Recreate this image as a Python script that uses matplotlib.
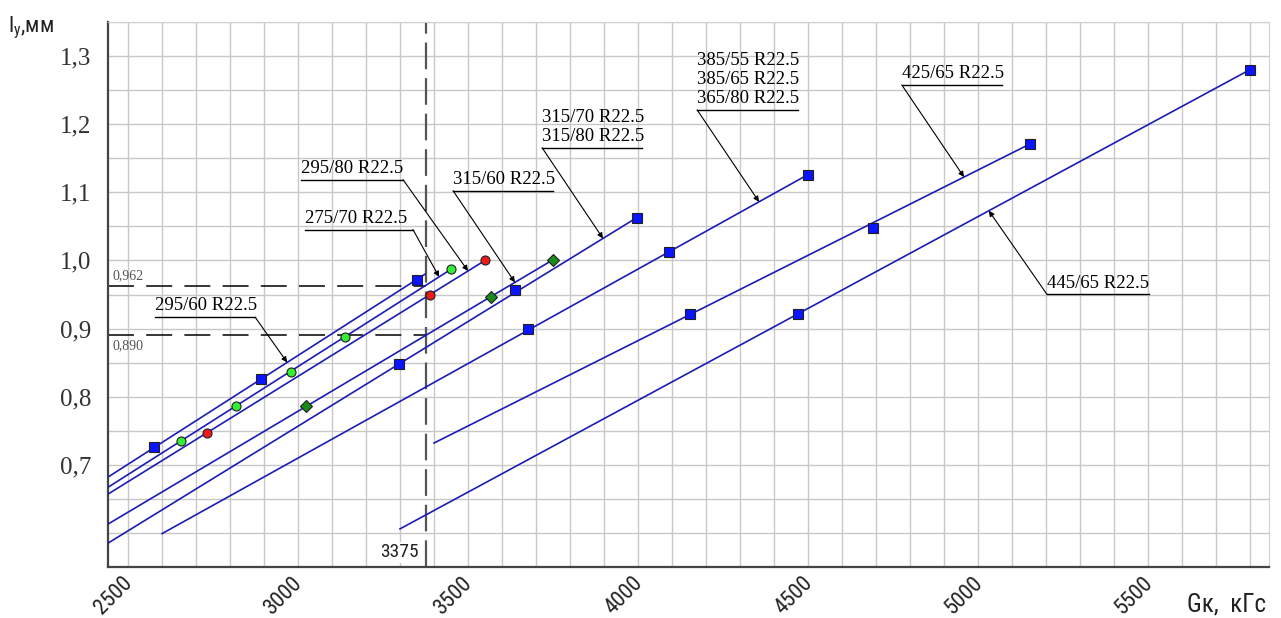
import numpy as np
import matplotlib.pyplot as plt
import matplotlib.transforms as mtransforms

# tyre series: line ends + marker points  (Gk, kgf  /  ly, mm)
names = ["295/60 R22.5", "275/70 R22.5", "295/80 R22.5", "315/60 R22.5",
         "315/70 R22.5\n315/80 R22.5",
         "385/55 R22.5\n385/65 R22.5\n365/80 R22.5",
         "425/65 R22.5", "445/65 R22.5"]
line_x = [[2441, 3374], [2441, 3450], [2441, 3550], [2441, 3750],
          [2441, 3997], [2600, 4500], [3400, 5153], [3300, 5800]]
line_y = [[0.682, 0.980], [0.667, 0.987], [0.657, 1.000], [0.613, 1.001],
          [0.585, 1.063], [0.599, 1.126], [0.732, 1.171], [0.606, 1.280]]
mark_x = [[2576, 2891, 3350], [2656, 2818, 2979, 3138, 3450], [2732, 3388, 3550],
          [3024, 3568, 3750], [3297, 3638, 3997], [3676, 4091, 4500],
          [4153, 4691, 5153], [4471, 5800]]
mark_y = [[0.726, 0.826, 0.972], [0.735, 0.786, 0.836, 0.887, 0.987],
          [0.747, 0.950, 1.000], [0.786, 0.946, 1.001], [0.848, 0.956, 1.063],
          [0.899, 1.013, 1.126], [0.921, 1.047, 1.171], [0.921, 1.280]]
g_ref = 3375
ly_ref = [0.962, 0.890]
ly_ref_txt = ["0,962", "0,890"]

# marker styles per series
mstyle = [("s", "#0a14ff", 7.5), ("o", "#33ee33", 6.5), ("o", "#ee1a1a", 6.5),
          ("D", "#1a8a1a", 6.5), ("s", "#0a14ff", 7.5), ("s", "#0a14ff", 7.5),
          ("s", "#0a14ff", 7.5), ("s", "#0a14ff", 7.5)]

# leader callouts: underline x0, x1, y (data) / target x on series / which end
call_x0 = [2579, 3021, 3009, 3456, 3718, 4174, 4776, 5203]
call_x1 = [2874, 3338, 3309, 3750, 4012, 4471, 5071, 5503]
call_y = [0.9166, 1.0454, 1.1185, 1.1024, 1.1654, 1.221, 1.2576, 0.9502]
call_tx = [2968, 3415, 3500, 3638, 3897, 4356, 4959, 5032]
call_end = ["r", "r", "r", "l", "l", "l", "l", "l"]

serif = ["Liberation Serif", "DejaVu Serif"]
narrow = ["Roboto Condensed", "Roboto", "DejaVu Sans"]

fig = plt.figure(figsize=(12.81, 6.18), dpi=100)
ax = fig.add_axes([0.0843, 0.0825, 0.9063, 0.8819])
ax.set_xlim(2441, 5856)
ax.set_ylim(0.552, 1.35)

ax.set_xticks(np.arange(2500, 5801, 100), minor=True)
ax.set_yticks(np.arange(0.55, 1.351, 0.05), minor=True)
ax.set_xticks(np.arange(2500, 5501, 500))
ax.set_yticks(np.arange(0.7, 1.31, 0.1))
ax.set_xticklabels([str(v) for v in range(2500, 5501, 500)], rotation=45,
                   ha="right", rotation_mode="anchor", family=narrow, fontsize=16,
                   color="#222222")
ax.set_yticklabels([f"{v:.1f}".replace(".", ",") for v in np.arange(0.7, 1.31, 0.1)],
                   family=serif, fontsize=18, color="#333333")
ax.tick_params(which="both", length=0)
ax.tick_params(axis="x", pad=4)
ax.tick_params(axis="y", pad=12)
shift = mtransforms.ScaledTranslation(-6 / 100, 0, fig.dpi_scale_trans)
for lab in ax.get_xticklabels():
    lab.set_transform(lab.get_transform() + shift)
ax.grid(which="both", color="#c8c8c8", lw=1)
ax.set_axisbelow(True)
for s in ["top", "right"]:
    ax.spines[s].set_color("#d0d0d0")
for s in ["left", "bottom"]:
    ax.spines[s].set_color("#444444")
    ax.spines[s].set_linewidth(1.6)

for i in range(len(names)):
    ax.plot(line_x[i], line_y[i], color="#1c1cb4", lw=1.2, zorder=3)
    m, c, ms = mstyle[i]
    ax.plot(mark_x[i], mark_y[i], ls="none", marker=m, ms=ms, mfc=c,
            mec="#202020", mew=0.8, zorder=4)

# reference lines
ax.axvline(g_ref, color="#555555", lw=1.6, dashes=(12, 4), zorder=2)
for v, t, off in zip(ly_ref, ly_ref_txt, [3, -3]):
    ax.plot([2441, g_ref], [v, v], color="black", lw=1.1, dashes=(17, 8), zorder=2)
    ax.annotate(t, xy=(2441, v), xytext=(3, off), textcoords="offset points",
                ha="left", va="bottom" if off > 0 else "top",
                family=serif, fontsize=10, color="#555555")
ax.annotate(str(g_ref), xy=(g_ref, 0.552), xytext=(-5, 3), textcoords="offset points",
            ha="right", va="bottom", family=narrow, fontsize=14, color="#222222",
            bbox=dict(fc="white", ec="none", pad=1), zorder=3)

# callouts
for i in range(len(names)):
    x0, x1, y = call_x0[i], call_x1[i], call_y[i]
    ax.plot([x0, x1], [y, y], color="black", lw=1.0, zorder=5)
    ax.annotate(names[i], xy=(x0, y), xytext=(0, 2), textcoords="offset points",
                ha="left", va="bottom", family=serif, fontsize=13.5,
                linespacing=1.15, zorder=5)
    tx = call_tx[i]
    ty = np.interp(tx, line_x[i], line_y[i])
    sx = x1 if call_end[i] == "r" else x0
    ax.annotate("", xy=(tx, ty), xytext=(sx, y),
                arrowprops=dict(arrowstyle="-|>", lw=0.8, color="black",
                                mutation_scale=8, shrinkA=0, shrinkB=0), zorder=5)

fig.text(0.006, 0.955, r"l$_{\mathregular{у}}$,мм", family=narrow, fontsize=16,
         ha="left", va="center", color="#222222")
fig.text(0.988, 0.022, "Gк,  кГс", family=narrow, fontsize=18,
         ha="right", va="center", color="#222222")

fig.savefig("out.png", dpi=100)
